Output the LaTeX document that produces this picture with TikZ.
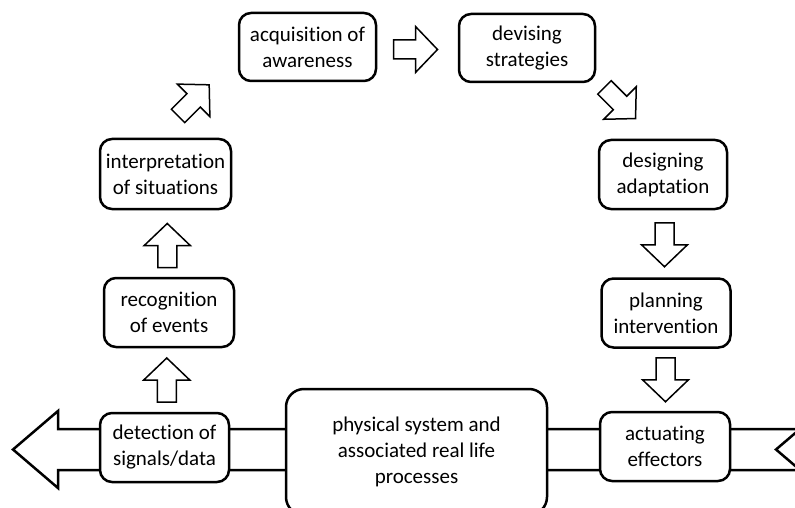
\documentclass[tikz,border=0pt]{standalone}
\usepackage{fontspec}
\setmainfont[RawFeature={-liga;-clig}]{Carlito}
\usetikzlibrary{calc}
\newcommand\blockarr[2]{\draw[arrowshape, shift={(#1)}, rotate=#2] (-22,-9.5) -- (0,-9.5) -- (0,-23) -- (22,0) -- (0,23) -- (0,9.5) -- (-22,9.5) -- cycle;}
\begin{document}
\begin{tikzpicture}[x=1pt,y=-1pt,
  box/.style={draw, line width=2.5pt, rounded corners=12pt, fill=white, align=center,
    inner sep=0pt, font=\fontsize{21}{26}\selectfont,
    execute at begin node={\rule{0pt}{19pt}}},
  arrowshape/.style={draw, line width=1.5pt, fill=white, line join=miter},
  band/.style={draw, line width=2.5pt, fill=white, line join=miter}]
\useasboundingbox (0,0) rectangle (795,508);
\clip (0,0) rectangle (795,508);
% big band arrow
\draw[band] (800,429) -- (58,429) -- (58,411) -- (13,449.5) -- (58,488) -- (58,470) -- (800,470) -- (776,449.5) -- cycle;
% boxes
\node[box, minimum width=137pt, minimum height=68pt] (acq) at (307.5,47) {acquisition of\\awareness};
\node[box, minimum width=136pt, minimum height=68pt] (dev) at (527,48) {devising\\strategies};
\node[box, minimum width=128pt, minimum height=69pt] (des) at (663,174.5) {designing\\adaptation};
\node[box, minimum width=129pt, minimum height=69pt] (plan) at (666,313) {planning\\intervention};
\node[box, minimum width=130pt, minimum height=69pt] (act) at (665,446.5) {actuating\\effectors};
\node[box, rounded corners=18pt, minimum width=261pt, minimum height=126pt] (phys) at (416.5,452) {physical system and\\associated real life\\processes};
\node[box, minimum width=129pt, minimum height=69pt] (det) at (164.5,447.5) {detection of\\signals/data};
\node[box, minimum width=130pt, minimum height=69pt] (rec) at (169,312.5) {recognition\\of events};
\node[box, minimum width=131pt, minimum height=70pt] (int) at (165.5,174) {interpretation\\of situations};
% block arrows between boxes
\coordinate (a1) at ($(det.north)!0.5!(rec.south)$);
\coordinate (a2) at ($(rec.north)!0.5!(int.south)+(0,2)$);
\coordinate (a3) at ($(int.north)!0.5!(acq.west)+(-8,8)$);
\coordinate (a4) at ($(acq.east)!0.5!(dev.west)+(-2,2)$);
\coordinate (a5) at ($(dev.south)!0.5!(des.north)+(25,-8)$);
\coordinate (a6) at ($(des.south)!0.5!(plan.north)+(0,1)$);
\coordinate (a7) at ($(plan.south)!0.5!(act.north)$);
\blockarr{a1}{90}
\blockarr{a2}{90}
\blockarr{a3}{45}
\blockarr{a4}{0}
\blockarr{a5}{-45}
\blockarr{a6}{-90}
\blockarr{a7}{-90}
\end{tikzpicture}
\end{document}
